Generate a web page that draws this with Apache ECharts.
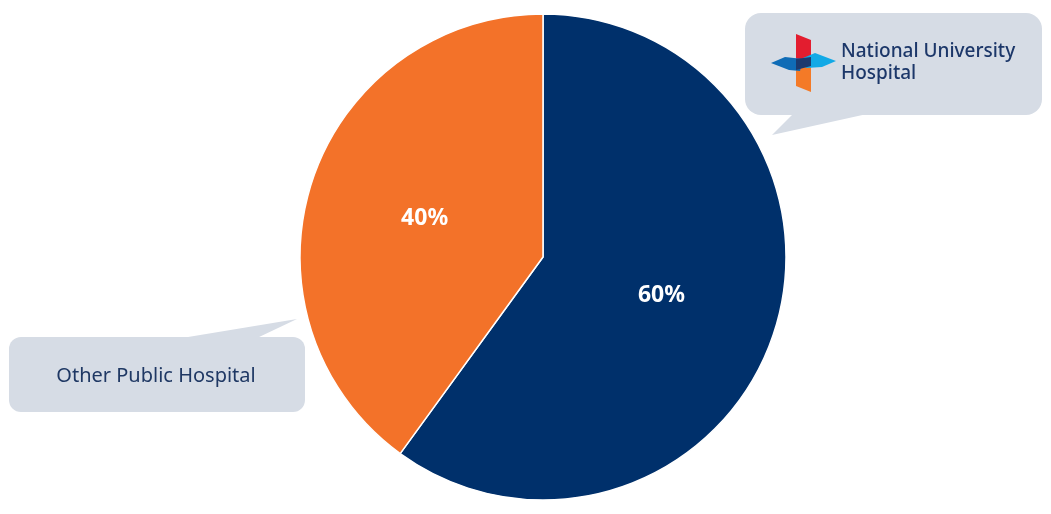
<!DOCTYPE html>
<html>
<head>
<meta charset="utf-8">
<script src="https://cdn.jsdelivr.net/npm/echarts@6/dist/echarts.min.js"></script>
<style>
html,body{margin:0;padding:0;background:#fff;}
#main{width:1051px;height:514px;}
</style>
</head>
<body>
<div id="main"></div>
<script>
const categories = ['National University Hospital', 'Other Public Hospital'];
const values = [60, 40];
const sliceColors = ['#00306b', '#f37229'];
const calloutNUH = ['National University', 'Hospital'];
const calloutOther = 'Other Public Hospital';

const chart = echarts.init(document.getElementById('main'), null, {renderer: 'canvas'});

const boxFill = '#d6dce5';
const textNavy = '#1f3864';

const option = {
  backgroundColor: '#ffffff',
  animation: false,
  series: [{
    type: 'pie',
    center: [543, 257],
    radius: [0, 243],
    startAngle: 90,
    clockwise: true,
    data: categories.map((c, i) => ({name: c, value: values[i], itemStyle: {color: sliceColors[i]}})),
    itemStyle: {borderColor: '#ffffff', borderWidth: 1.5},
    label: {
      show: true,
      position: 'inside',
      formatter: p => p.value + '%',
      color: '#ffffff',
      fontFamily: 'Noto Sans',
      fontWeight: 'bold',
      fontSize: 23
    },
    labelLine: {show: false},
    emphasis: {disabled: true}
  }],
  graphic: [
    // NUH callout
    {type: 'polygon', z: 1, shape: {points: [[793, 114], [867, 114], [772, 135]]}, style: {fill: boxFill}},
    {type: 'rect', z: 1, shape: {x: 745, y: 13, width: 297, height: 102, r: 16}, style: {fill: boxFill}},
    // logo
    {type: 'polygon', z: 2, shape: {points: [[796, 34], [811, 40], [811, 62], [796, 60]]}, style: {fill: '#e31d2f'}},
    {type: 'polygon', z: 2, shape: {points: [[796, 64], [811, 62], [811, 92], [796, 86]]}, style: {fill: '#f47a27'}},
    {type: 'polygon', z: 2, shape: {points: [[803, 58], [815, 53], [836, 61], [822, 67], [806, 68]]}, style: {fill: '#12a9e6'}},
    {type: 'polygon', z: 2, shape: {points: [[771, 63], [785, 57], [803, 59], [800, 71], [789, 70]]}, style: {fill: '#0f6cb6'}},
    {type: 'polygon', z: 3, shape: {points: [[796, 59], [811, 57], [811, 66], [796, 70]]}, style: {fill: '#1c3a6e'}},
    {type: 'text', z: 3, style: {x: 841, y: 52, text: calloutNUH[0], font: '500 19px "Noto Sans"', fill: '#1c3769', verticalAlign: 'middle', align: 'left'}},
    {type: 'text', z: 3, style: {x: 841, y: 74, text: calloutNUH[1], font: '500 19px "Noto Sans"', fill: '#1c3769', verticalAlign: 'middle', align: 'left'}},
    // Other callout
    {type: 'polygon', z: 1, shape: {points: [[182, 338], [257, 338], [297, 319]]}, style: {fill: boxFill}},
    {type: 'rect', z: 1, shape: {x: 9, y: 337, width: 296, height: 75, r: 12}, style: {fill: boxFill}},
    {type: 'text', z: 3, style: {x: 156, y: 376, text: calloutOther, font: '20px "Noto Sans"', fill: textNavy, verticalAlign: 'middle', align: 'center'}}
  ]
};
chart.setOption(option);
</script>
</body>
</html>
